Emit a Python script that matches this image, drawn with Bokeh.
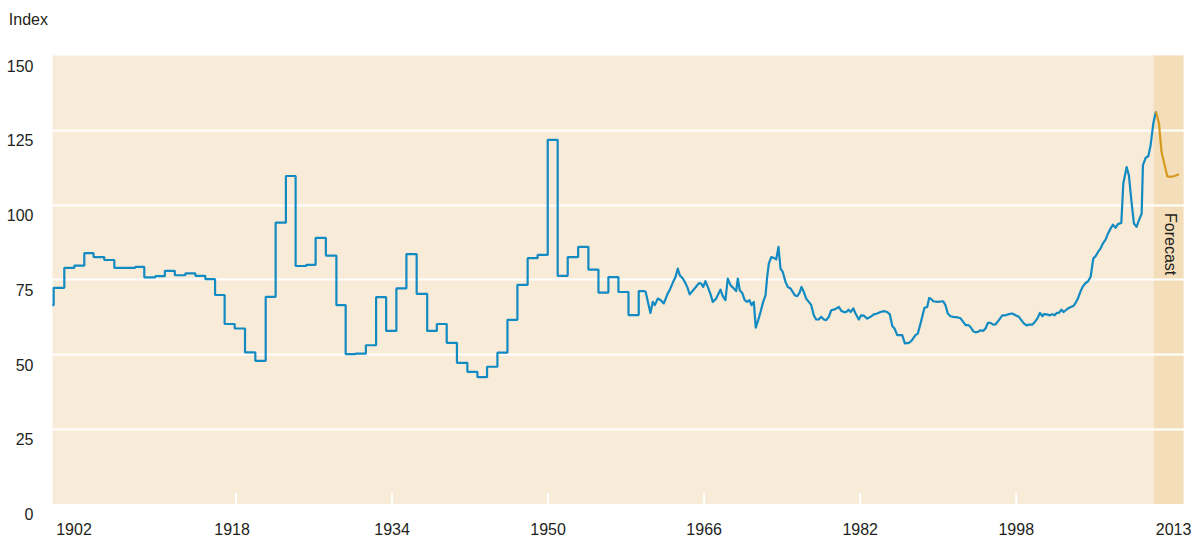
import math
from bokeh.plotting import figure
from bokeh.models import FixedTicker, Label, BoxAnnotation
from bokeh.embed import file_html
from bokeh.resources import INLINE

# ---------------- data ----------------
# early annual data, drawn as steps: step start (decimal year on the axis) and level
step_years = [1899.16, 1899.3, 1900.39, 1901.42, 1902.44, 1903.39, 1904.49, 1905.52, 1907.67,
              1908.59, 1909.72, 1910.70, 1911.72, 1912.80, 1913.83, 1914.85, 1915.85, 1916.83,
              1917.86, 1918.92, 1919.98, 1921.04, 1922.06, 1923.11, 1924.11, 1925.19, 1926.16,
              1927.21, 1928.29, 1929.24, 1930.24, 1931.31, 1932.36, 1933.39, 1934.44, 1935.47,
              1936.52, 1937.60, 1938.59, 1939.60, 1940.65, 1941.72, 1942.75, 1943.74, 1944.80,
              1945.83, 1946.85, 1947.90, 1948.92, 1949.96, 1950.98, 1952.01, 1953.08, 1954.13,
              1955.16, 1956.18, 1957.21, 1958.24, 1959.29, 1959.98]
step_values = [66.5, 72.3, 79.0, 79.7, 83.9, 82.6, 81.6, 79.0, 79.3,
               75.8, 76.2, 78.0, 76.5, 77.1, 76.3, 75.2, 69.9, 60.2,
               58.7, 50.7, 47.9, 69.3, 94.1, 109.7, 79.6, 80.0, 89.0,
               83.1, 66.5, 50.1, 50.3, 53.1, 69.2, 57.9, 72.1, 83.6,
               70.3, 57.9, 60.2, 53.9, 47.2, 44.2, 42.4, 45.9, 50.6,
               61.6, 73.3, 82.2, 83.3, 121.8, 76.3, 82.6, 86.0, 78.4,
               70.7, 75.9, 70.9, 63.2, 71.2, 71.2]

# later higher-frequency data
line_years = [1959.98, 1960.49, 1960.73, 1960.94, 1961.24, 1961.52, 1961.86, 1962.27, 1962.54,
              1962.82, 1963.06, 1963.29, 1963.50, 1963.81, 1964.01, 1964.26, 1964.52, 1964.87,
              1965.21, 1965.45, 1965.69, 1965.90, 1966.13, 1966.37, 1966.65, 1966.88, 1967.23,
              1967.67, 1967.91, 1968.18, 1968.42, 1968.70, 1969.04, 1969.28, 1969.45, 1969.65,
              1969.90, 1970.16, 1970.41, 1970.65, 1970.85, 1971.09, 1971.29, 1971.54, 1971.78,
              1972.05, 1972.29, 1972.46, 1972.63, 1972.88, 1973.14, 1973.39, 1973.62, 1973.83,
              1974.06, 1974.34, 1974.58, 1974.85, 1975.03, 1975.29, 1975.54, 1975.78, 1975.98,
              1976.22, 1976.46, 1976.73, 1976.98, 1977.24, 1977.49, 1977.75, 1978.00, 1978.27,
              1978.51, 1978.78, 1979.03, 1979.29, 1979.54, 1979.81, 1980.06, 1980.32, 1980.57,
              1980.80, 1981.01, 1981.29, 1981.52, 1981.86, 1982.10, 1982.37, 1982.72, 1983.06,
              1983.40, 1983.74, 1984.08, 1984.42, 1984.77, 1985.04, 1985.29, 1985.52, 1985.80,
              1986.31, 1986.58, 1986.99, 1987.26, 1987.67, 1987.91, 1988.19, 1988.36, 1988.59,
              1988.87, 1989.07, 1989.28, 1989.48, 1989.95, 1990.51, 1990.74, 1990.98, 1991.26,
              1991.54, 1992.01, 1992.29, 1992.56, 1992.83, 1993.11, 1993.31, 1993.59, 1993.83,
              1994.10, 1994.34, 1994.61, 1994.85, 1995.09, 1995.36, 1995.64, 1995.88, 1996.22,
              1996.57, 1996.91, 1997.24, 1997.59, 1997.93, 1998.27, 1998.52, 1998.78, 1999.06,
              1999.30, 1999.65, 1999.91, 2000.16, 2000.43, 2000.68, 2000.84, 2001.12, 2001.46,
              2001.71, 2001.94, 2002.15, 2002.38, 2002.63, 2002.84, 2003.07, 2003.31, 2003.59,
              2003.85, 2004.09, 2004.32, 2004.60, 2004.84, 2005.11, 2005.35, 2005.63, 2005.90,
              2006.14, 2006.39, 2006.65, 2006.88, 2007.16, 2007.40, 2007.67, 2007.91, 2008.19,
              2008.42, 2008.77, 2008.98, 2009.32, 2009.55, 2009.80, 2010.07, 2010.34, 2010.58,
              2010.86, 2010.99, 2011.27, 2011.54, 2011.78, 2012.06, 2012.32]
line_values = [71.2, 63.9, 67.6, 66.5, 68.7, 68.2, 67.1, 70.4, 72.1,
               74.3, 75.9, 78.7, 76.5, 75.4, 74.3, 72.6, 70.1, 71.5,
               72.8, 73.9, 73.7, 72.6, 74.5, 72.6, 70.2, 67.6, 68.7,
               71.7, 69.5, 68.2, 75.4, 73.2, 72.1, 71.2, 75.4, 71.5,
               70.6, 68.2, 67.6, 68.2, 66.5, 67.6, 59.0, 61.5, 64.2,
               67.6, 69.8, 75.9, 80.4, 82.6, 82.3, 81.8, 86.0, 78.7,
               77.6, 74.3, 72.6, 72.1, 71.2, 69.8, 69.5, 70.6, 72.6,
               70.9, 68.7, 67.6, 66.5, 63.1, 61.7, 61.7, 62.6, 61.7,
               61.5, 62.6, 64.8, 65.0, 65.4, 65.9, 64.6, 64.2, 64.2,
               65.0, 64.2, 65.4, 63.7, 61.7, 63.1, 63.0, 62.0, 62.6,
               63.4, 63.7, 64.2, 64.5, 64.2, 63.4, 59.5, 58.7, 56.5,
               56.5, 53.7, 53.9, 54.6, 56.5, 57.0, 60.4, 62.6, 65.6,
               65.9, 68.9, 68.6, 67.8, 67.6, 67.8, 66.5, 63.7, 62.8,
               62.6, 62.4, 62.1, 60.9, 59.8, 59.8, 59.2, 57.8, 57.4,
               57.6, 58.1, 57.9, 58.7, 60.6, 60.6, 60.0, 60.1, 61.5,
               63.1, 63.1, 63.5, 63.7, 63.1, 62.6, 61.5, 60.4, 59.7,
               60.0, 60.0, 60.9, 62.0, 63.9, 62.8, 63.5, 63.4, 63.1,
               63.5, 63.1, 63.9, 63.9, 65.0, 64.2, 64.8, 65.4, 65.9,
               66.2, 67.3, 68.7, 71.2, 72.8, 73.9, 74.4, 76.0, 82.1,
               82.9, 84.3, 85.5, 87.1, 88.4, 90.4, 92.1, 93.4, 92.4,
               93.6, 94.0, 107.2, 112.7, 109.9, 101.6, 93.8, 92.7, 94.9,
               97.1, 113.3, 115.8, 116.3, 120.0, 127.4, 131.3]

forecast_years = [2012.32, 2012.63, 2012.90, 2013.14, 2013.49, 2013.83, 2014.24, 2014.68]
forecast_values = [131.3, 127.4, 117.7, 114.4, 109.6, 109.4, 109.7, 110.3]

forecast_start = 2012.1
x_start, x_end = 1899.18, 2015.15
y_start, y_end = 0, 150

y_ticks = [0, 25, 50, 75, 100, 125, 150]
grid_ticks = [25, 50, 75, 100, 125]
x_tick_marks = [1918, 1934, 1950, 1966, 1982, 1998]
x_tick_labels = [1902, 1918, 1934, 1950, 1966, 1982, 1998, 2013]
label_nudge = {1902: -6, 1918: -4, 2013: 11}

# ---------------- style / layout ----------------
W, H = 1199, 540
PANEL_L, PANEL_R, PANEL_T, PANEL_B = 52, 1183, 55, 503.5   # beige panel in page pixels
BG = "#F8EBD8"
BAND = "#F4DDB9"
BLUE = "#128AC2"
ORANGE = "#D69A1F"
TXT = "#231F20"
FONT = "Liberation Sans"
FS = "16px"

# the plot frame fills the whole canvas; the beige panel is a box in data space
px_x = (PANEL_R - PANEL_L) / (x_end - x_start)
px_y = (PANEL_B - PANEL_T) / (y_end - y_start)
xr = (x_start - PANEL_L / px_x, x_end + (W - PANEL_R) / px_x)
yr = (y_start - (H - PANEL_B) / px_y, y_end + PANEL_T / px_y)

p = figure(width=W, height=H, x_range=xr, y_range=yr,
           output_backend="svg", toolbar_location=None, min_border=0)
p.axis.visible = False
p.background_fill_color = "white"
p.border_fill_color = "white"
p.outline_line_color = None
p.xgrid.visible = False

p.add_layout(BoxAnnotation(left=x_start, right=x_end, bottom=y_start, top=y_end,
                           fill_color=BG, fill_alpha=1.0, line_color=None, level="image"))
p.add_layout(BoxAnnotation(left=forecast_start, right=x_end, bottom=y_start, top=y_end,
                           fill_color=BAND, fill_alpha=1.0, line_color=None, level="image"))

p.ygrid.ticker = FixedTicker(ticks=grid_ticks)
p.ygrid.grid_line_color = "white"
p.ygrid.grid_line_width = 2

# white tick marks rising from the bottom of the panel
p.ray(x=x_tick_marks, y=[y_start] * len(x_tick_marks), length=11, length_units="screen",
      angle=math.pi / 2, line_color="white", line_width=2)

p.step(step_years, step_values, mode="after", line_color=BLUE, line_width=2.2)
p.line(line_years, line_values, line_color=BLUE, line_width=2.2, line_join="round")
p.line(forecast_years, forecast_values, line_color=ORANGE, line_width=2.2, line_join="round")

for t in y_ticks:
    p.add_layout(Label(x=x_start, y=t, x_offset=-19, y_offset=-10, text=str(t),
                       text_align="right", text_baseline="alphabetic",
                       text_font=FONT, text_font_size=FS, text_color=TXT))

for t in x_tick_labels:
    p.add_layout(Label(x=t, y=y_start, x_offset=label_nudge.get(t, 0), y_offset=-25,
                       text=str(t), text_align="center", text_baseline="alphabetic",
                       text_font=FONT, text_font_size=FS, text_color=TXT))

p.add_layout(Label(x=x_start, y=y_end, x_offset=-43.7, y_offset=36, text="Index",
                   text_align="left", text_baseline="alphabetic",
                   text_font=FONT, text_font_size=FS, text_color=TXT))

p.add_layout(Label(x=(forecast_start + x_end) / 2, y=100, x_offset=2, y_offset=-8,
                   text="Forecast", angle=-math.pi / 2, text_align="left",
                   text_baseline="middle",
                   text_font=FONT, text_font_size=FS, text_color=TXT))

open("out.html", "w").write(file_html(p, INLINE))
